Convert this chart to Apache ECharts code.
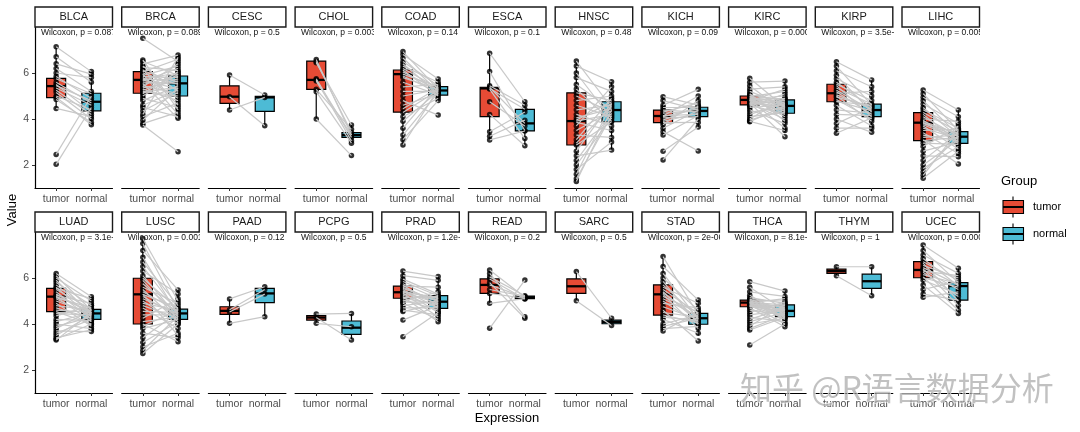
<!DOCTYPE html>
<html><head><meta charset="utf-8">
<script src="https://cdn.jsdelivr.net/npm/echarts@6/dist/echarts.min.js"></script>
<style>html,body{margin:0;padding:0;background:#fff}#c{width:1080px;height:432px}</style>
</head><body><div id="c"></div>
<script>
// ---------------- data ----------------
const cancers = ['BLCA','BRCA','CESC','CHOL','COAD','ESCA','HNSC','KICH','KIRC','KIRP','LIHC',
                 'LUAD','LUSC','PAAD','PCPG','PRAD','READ','SARC','STAD','THCA','THYM','UCEC'];
const pValues = ['0.087','0.089','0.5','0.0039','0.14','0.1','0.48','0.09','0.00024','3.5e-06','0.0052',
                 '3.1e-08','0.0016','0.12','0.5','1.2e-05','0.2','0.5','2e-06','8.1e-07','1','0.00012'];
const groups = ['tumor','normal'];
const yTicks = [2,4,6];

// paired sample values (tumor[k] paired with normal[k])
const tumorValues = [
  [7.14,6.71,6.4,6.2,6.0,5.85,5.75,5.6,5.5,5.45,5.35,5.25,5.15,5.0,4.95,4.85,4.46,2.46,2.03],
  [7.51,6.57,6.5,6.4,6.3,6.25,6.15,6.1,6.05,6.0,5.95,5.9,5.85,5.8,5.75,5.72,5.7,5.65,5.6,5.55,5.5,5.45,5.4,5.35,5.3,5.25,5.2,5.15,5.1,5.0,4.9,4.8,4.6,4.5,4.35,4.2,4.1,3.95,3.8,3.74],
  [5.91,4.97,4.39],
  [6.59,6.5,6.45,5.75,5.7,5.65,5.29,5.19,4.0],
  [6.93,6.8,6.65,6.5,6.4,6.3,6.2,6.13,6.05,5.95,5.87,5.8,5.6,5.4,5.2,5.0,4.8,4.6,4.45,4.28,4.1,3.9,3.6,3.3,3.1,2.87],
  [6.86,6.06,5.45,5.38,5.33,5.3,4.75,4.2,3.45,3.25,3.09],
  [6.52,6.3,6.0,5.8,5.5,5.3,5.14,5.0,4.8,4.6,4.4,4.2,4.05,3.95,3.91,3.85,3.7,3.5,3.3,3.1,2.95,2.87,2.6,2.4,2.2,2.0,1.8,1.6,1.4,1.28],
  [4.97,4.8,4.6,4.5,4.39,4.3,4.25,4.15,4.13,4.1,4.05,3.95,3.9,3.84,3.75,3.6,3.45,3.3,2.6,2.22],
  [5.77,5.6,5.45,5.3,5.2,5.1,5.05,5.0,4.97,4.95,4.92,4.9,4.88,4.86,4.84,4.83,4.82,4.8,4.78,4.75,4.72,4.7,4.68,4.65,4.62,4.61,4.55,4.5,4.4,4.3,4.2,4.1,4.0,3.95,3.9,3.88],
  [6.49,6.3,6.1,5.9,5.75,5.6,5.51,5.45,5.35,5.25,5.18,5.12,5.05,5.0,4.95,4.85,4.78,4.75,4.6,4.4,4.2,4.0,3.8,3.6,3.38],
  [5.26,5.1,4.95,4.8,4.65,4.5,4.4,4.28,4.2,4.1,4.0,3.95,3.9,3.85,3.84,3.8,3.7,3.6,3.5,3.4,3.3,3.2,3.1,3.06,2.95,2.8,2.6,2.4,2.2,2.0,1.85,1.7,1.55,1.42,3.75],
  [6.2,6.1,6.0,5.9,5.8,5.7,5.6,5.55,5.5,5.4,5.3,5.25,5.2,5.19,5.15,5.1,5.0,4.9,4.8,4.7,4.6,4.54,4.45,4.35,4.2,4.1,4.0,3.9,3.8,3.7,3.6,3.5,3.4,3.35,3.3],
  [7.72,7.5,7.2,6.9,6.7,6.5,6.3,6.1,5.99,5.9,5.75,5.6,5.5,5.4,5.3,5.29,5.2,5.1,5.0,4.9,4.8,4.7,4.55,4.4,4.25,4.1,4.0,3.9,3.8,3.6,3.4,3.2,3.0,2.85,2.72],
  [5.09,4.62,4.52,4.03],
  [4.43,4.28,4.03],
  [6.3,6.1,5.95,5.85,5.75,5.68,5.65,5.6,5.55,5.5,5.45,5.4,5.38,5.35,5.3,5.25,5.2,5.15,5.12,5.05,5.0,4.95,4.9,4.8,4.7,4.6,4.54,5.42,4.17,3.45],
  [6.35,6.2,6.05,5.96,5.8,5.7,5.5,5.33,4.9,3.81],
  [6.28,5.01],
  [6.93,6.5,6.2,6.0,5.85,5.7,5.6,5.5,5.4,5.35,5.29,5.2,5.1,5.0,4.9,4.75,4.6,4.5,4.39,4.3,4.2,4.0,3.9,3.8,3.7],
  [5.84,5.6,5.4,5.25,5.15,5.08,5.04,5.02,5.0,4.98,4.96,4.94,4.93,4.92,4.9,4.88,4.86,4.84,4.82,4.8,4.78,4.76,4.75,4.7,4.6,4.5,4.4,4.3,4.2,4.1,4.0,3.9,3.8,3.74,3.09],
  [6.49,6.1],
  [7.43,7.2,7.0,6.85,6.71,6.65,6.55,6.45,6.4,6.35,6.3,6.25,6.15,6.05,6.01,5.9,5.7,5.5,5.3,5.16]
];
const normalValues = [
  [6.06,5.6,5.95,5.2,5.8,4.9,5.1,4.7,4.3,4.8,4.6,4.2,4.0,4.4,3.75,3.85,4.1,5.0,4.5],
  [6.5,4.4,5.9,6.78,5.2,6.1,4.6,5.6,6.6,5.5,4.2,6.3,5.8,4.9,6.0,5.7,5.3,6.2,5.55,4.03,5.85,5.1,6.4,5.65,4.8,5.75,5.0,5.4,6.05,5.95,4.5,5.45,5.25,4.1,5.15,6.68,4.7,5.35,4.3,2.58],
  [5.04,3.71,4.94],
  [3.3,3.41,3.74,3.2,3.05,3.3,3.55,2.95,2.41],
  [5.3,5.74,5.2,5.45,5.1,5.6,5.35,5.0,5.25,5.4,5.15,5.3,5.05,5.5,5.2,5.28,4.17,5.1,5.35,5.25,4.9,5.2,5.4,5.15,4.8,5.3],
  [4.75,3.5,4.6,3.81,4.42,3.15,3.7,2.84,4.3,3.95,3.48],
  [4.5,5.62,4.0,5.2,4.4,3.9,4.8,4.3,5.0,4.1,4.6,3.7,4.45,4.75,4.2,3.5,5.4,4.35,3.2,4.9,4.55,3.88,4.7,2.65,4.25,4.05,3.0,4.65,4.15,4.4],
  [4.6,4.4,5.29,4.5,4.3,4.7,4.35,4.2,5.0,4.45,4.1,4.55,4.25,3.85,4.8,4.38,2.61,4.15,3.65,4.0],
  [4.5,5.65,4.3,5.4,4.6,3.9,4.8,4.4,5.2,4.7,4.1,4.57,5.0,4.25,4.9,3.6,4.65,4.45,5.3,4.35,4.75,3.23,4.55,4.0,4.83,4.2,5.1,4.62,3.8,4.5,4.68,4.28,4.9,4.4,3.5,4.58],
  [5.7,4.6,5.4,4.3,5.0,4.5,4.8,4.1,4.65,4.39,4.2,5.2,4.45,3.9,4.55,4.0,4.35,4.6,3.7,4.25,4.15,3.42,4.5,3.6,4.05],
  [4.39,3.5,4.1,3.3,3.8,3.2,3.6,3.45,3.0,3.25,3.9,2.94,3.35,3.1,3.23,3.4,2.7,3.15,3.55,2.5,3.05,3.3,2.04,3.2,2.9,3.7,3.0,2.36,3.4,3.1,2.8,3.25,3.5,2.6,3.15],
  [5.19,4.6,5.0,4.4,4.8,4.5,4.3,5.1,4.64,4.2,4.46,4.9,4.55,4.1,4.7,4.35,4.45,3.9,4.6,4.25,4.5,4.0,4.4,4.8,4.15,4.5,3.8,4.3,4.6,3.67,4.2,4.4,3.75,4.0,4.5],
  [5.0,4.6,5.48,4.4,4.8,4.5,5.3,4.3,4.65,4.2,4.46,4.9,4.1,4.55,3.5,4.7,4.35,4.45,4.0,4.6,4.25,3.8,4.5,4.4,5.1,4.3,3.23,4.6,4.2,3.4,4.5,4.1,3.6,4.35,4.0],
  [5.62,5.5,5.3,4.32],
  [4.46,3.3,3.88],
  [6.06,5.9,5.3,5.23,5.1,4.8,5.6,4.97,5.0,4.68,4.5,5.15,4.9,4.3,5.05,4.75,4.1,5.2,4.85,4.6,5.4,4.95,4.2,5.0,4.7,4.4,4.9,5.1,4.8,4.5],
  [5.16,4.32,5.23,5.09,4.25,5.16,5.2,5.12,5.1,5.91],
  [4.25,3.93],
  [4.4,5.04,4.2,4.6,4.0,4.3,4.9,4.46,4.1,4.25,3.8,4.5,4.35,3.99,4.7,4.2,3.26,4.3,4.05,4.15,3.6,4.4,4.25,3.9,4.5],
  [5.43,4.6,5.2,4.4,4.9,4.5,5.0,4.32,4.7,4.57,4.2,4.83,4.45,5.1,4.6,4.35,4.75,4.0,4.5,4.65,4.3,4.8,4.55,3.88,4.4,4.95,4.6,4.1,4.7,4.5,4.25,4.85,4.4,4.3,4.0],
  [6.49,5.23],
  [6.42,5.8,6.2,5.65,5.9,5.0,6.0,5.7,4.8,5.5,6.1,5.2,5.75,4.6,5.6,5.3,4.46,5.85,5.04,5.4]
];
// box statistics [lower whisker, Q1, median, Q3, upper whisker]
const tumorBox = [
  [4.46,4.93,5.43,5.77,7.14],[3.74,5.12,5.7,6.06,6.57],[4.39,4.68,4.97,5.44,5.91],[4.0,5.29,5.7,6.52,6.59],
  [2.87,4.3,5.95,6.13,6.93],[3.09,4.1,5.33,5.38,6.86],[1.28,2.87,3.91,5.14,6.52],[3.3,3.84,4.13,4.39,4.97],
  [3.88,4.61,4.83,5.0,5.77],[3.38,4.75,5.12,5.51,6.49],[1.42,3.06,3.84,4.28,5.26],
  [3.3,4.54,5.19,5.55,6.2],[2.72,4.0,5.29,5.99,7.72],[4.03,4.42,4.57,4.75,5.09],[4.03,4.17,4.28,4.36,4.43],
  [4.54,5.12,5.38,5.65,6.3],[4.9,5.33,5.7,5.96,6.35],[5.01,5.33,5.64,5.96,6.28],[3.7,4.39,5.29,5.7,6.93],
  [4.35,4.75,4.93,5.04,5.45],[6.1,6.2,6.3,6.39,6.49],[5.16,6.01,6.35,6.71,7.43]
];
const normalBox = [
  [3.75,4.35,4.75,5.12,6.06],[4.03,5.0,5.55,5.87,6.78],[3.71,4.33,4.94,4.99,5.04],[2.95,3.2,3.3,3.41,3.74],
  [4.8,5.04,5.24,5.41,5.74],[2.84,3.48,3.81,4.42,4.75],[2.65,3.88,4.39,4.75,5.62],[3.65,4.1,4.35,4.51,5.0],
  [3.4,4.25,4.57,4.83,5.65],[3.42,4.1,4.39,4.65,5.7],[2.36,2.94,3.23,3.45,4.39],
  [3.67,4.2,4.46,4.64,5.19],[3.23,4.2,4.46,4.65,5.48],[4.32,4.93,5.33,5.55,5.62],[3.3,3.55,3.84,4.13,4.46],
  [4.1,4.68,4.97,5.23,6.06],[5.09,5.1,5.16,5.21,5.23],[3.93,4.01,4.09,4.17,4.25],[3.5,3.99,4.25,4.46,5.04],
  [3.88,4.32,4.57,4.83,5.43],[5.23,5.55,5.86,6.17,6.49],[4.46,5.04,5.65,5.8,6.42]
];

// ---------------- layout / style ----------------
const FONT = 'Liberation Sans, Arial, Helvetica, sans-serif';
const NCOL = 11, LEFT0 = 35, PITCH = 86.7, PW = 77.5, PH = 161, ROWTOP = [27, 232], STRIP_H = 20;
const Y_MIN = 1, Y_MAX = 8, X_MIN = 0.4, X_MAX = 2.6, BOX_HW = 0.27, P_LABEL_Y = 7.75;
const groupColors = ['#E64B35', '#4DBBD5'];
const pairColor = '#C8C8C8';

function boxRender(params, api) {
  const c = api.value(0);
  const lo = api.value(1), q1 = api.value(2), md = api.value(3), q3 = api.value(4), hi = api.value(5);
  const xm = api.coord([c, q1])[0];
  const xl = api.coord([c - BOX_HW, q1])[0], xr = api.coord([c + BOX_HW, q1])[0];
  const yLo = api.coord([c, lo])[1], yQ1 = api.coord([c, q1])[1], yMd = api.coord([c, md])[1];
  const yQ3 = api.coord([c, q3])[1], yHi = api.coord([c, hi])[1];
  return { type: 'group', children: [
    { type: 'line', shape: { x1: xm, y1: yHi, x2: xm, y2: yQ3 }, style: { stroke: '#000', lineWidth: 1.2 } },
    { type: 'line', shape: { x1: xm, y1: yQ1, x2: xm, y2: yLo }, style: { stroke: '#000', lineWidth: 1.2 } },
    { type: 'rect', shape: { x: xl, y: yQ3, width: xr - xl, height: Math.max(yQ1 - yQ3, 0.5) },
      style: { fill: groupColors[c - 1], stroke: '#000', lineWidth: 1.2 } },
    { type: 'line', shape: { x1: xl, y1: yMd, x2: xr, y2: yMd }, style: { stroke: '#000', lineWidth: 2.3 } }
  ]};
}
function pairRender(params, api) {
  const a = api.coord([api.value(0), api.value(1)]);
  const b = api.coord([api.value(2), api.value(3)]);
  return { type: 'line', shape: { x1: a[0], y1: a[1], x2: b[0], y2: b[1] },
           style: { stroke: pairColor, lineWidth: 1.2 } };
}

const grids = [], xAxes = [], yAxes = [], series = [], graphics = [];
cancers.forEach((name, i) => {
  const row = Math.floor(i / NCOL), col = i % NCOL;
  const left = LEFT0 + col * PITCH, top = ROWTOP[row];
  grids.push({ left, top, width: PW, height: PH });
  xAxes.push({
    gridIndex: i, type: 'value', min: X_MIN, max: X_MAX,
    axisLine: { show: true, onZero: false, lineStyle: { color: '#000', width: 1.2 } },
    axisTick: { show: true, customValues: [1, 2], length: 3, lineStyle: { color: '#333', width: 1 } },
    axisLabel: { customValues: [1, 2], formatter: v => groups[Math.round(v) - 1], fontSize: 10.5,
                 color: '#4D4D4D', margin: 6, fontFamily: FONT },
    splitLine: { show: false }
  });
  yAxes.push({
    gridIndex: i, type: 'value', min: Y_MIN, max: Y_MAX,
    axisLine: { show: col === 0, onZero: false, lineStyle: { color: '#000', width: 1.2 } },
    axisTick: { show: col === 0, customValues: yTicks, length: 3, lineStyle: { color: '#333' } },
    axisLabel: { show: col === 0, customValues: yTicks, fontSize: 10.5, color: '#4D4D4D', margin: 6, fontFamily: FONT },
    splitLine: { show: false }
  });
  series.push({
    type: 'custom', xAxisIndex: i, yAxisIndex: i, z: 2, silent: true, renderItem: boxRender,
    encode: { x: 0, y: [1, 2, 3, 4, 5] },
    data: [[1].concat(tumorBox[i]), [2].concat(normalBox[i])]
  });
  series.push({
    type: 'scatter', xAxisIndex: i, yAxisIndex: i, z: 3, silent: true, symbolSize: 5.5,
    itemStyle: { color: '#000' },
    data: tumorValues[i].map(v => [1, v]).concat(normalValues[i].map(v => [2, v]))
  });
  series.push({
    type: 'custom', xAxisIndex: i, yAxisIndex: i, z: 4, silent: true, renderItem: pairRender,
    encode: { x: [0, 2], y: [1, 3] },
    data: tumorValues[i].map((t, k) => [1, t, 2, normalValues[i][k]])
  });
  series.push({
    type: 'custom', xAxisIndex: i, yAxisIndex: i, z: 5, silent: true, clip: true,
    encode: { x: 0, y: 1 },
    data: [[X_MIN, P_LABEL_Y]],
    renderItem: (params, api) => ({
      type: 'text', x: params.coordSys.x + 6, y: api.coord([X_MIN, api.value(1)])[1],
      style: { text: 'Wilcoxon, p = ' + pValues[i], fontSize: 8.5, fill: '#111', fontFamily: FONT,
               verticalAlign: 'middle', align: 'left' }
    })
  });
  graphics.push({ type: 'rect', shape: { x: left, y: top - STRIP_H, width: PW, height: STRIP_H },
                  style: { fill: '#fff', stroke: '#1A1A1A', lineWidth: 1.4 }, z: 10 });
  graphics.push({ type: 'text', x: left + PW / 2, y: top - STRIP_H / 2,
                  style: { text: name, fontSize: 11, fill: '#1A1A1A', fontFamily: FONT, align: 'center', verticalAlign: 'middle' }, z: 11 });
});

// axis titles
graphics.push({ type: 'text', x: 507, y: 418, style: { text: 'Expression', fontSize: 13, fill: '#000', fontFamily: FONT, align: 'center', verticalAlign: 'middle' } });
graphics.push({ type: 'text', x: 12, y: 210, rotation: Math.PI / 2,
                style: { text: 'Value', fontSize: 13, fill: '#000', fontFamily: FONT, align: 'center', verticalAlign: 'middle' } });

// legend (drawn)
graphics.push({ type: 'text', x: 1001, y: 181, style: { text: 'Group', fontSize: 13, fill: '#000', fontFamily: FONT, verticalAlign: 'middle' } });
const legendY = [207, 234];
groups.forEach((g, k) => {
  const cy = legendY[k];
  graphics.push({ type: 'line', shape: { x1: 1013, y1: cy - 10.5, x2: 1013, y2: cy + 10.5 }, style: { stroke: '#000', lineWidth: 1.1 } });
  graphics.push({ type: 'rect', shape: { x: 1003, y: cy - 6.5, width: 20.5, height: 13 }, style: { fill: groupColors[k], stroke: '#000', lineWidth: 1.1 } });
  graphics.push({ type: 'line', shape: { x1: 1003, y1: cy, x2: 1023.5, y2: cy }, style: { stroke: '#000', lineWidth: 2 } });
  graphics.push({ type: 'text', x: 1033, y: cy, style: { text: g, fontSize: 11, fill: '#000', fontFamily: FONT, verticalAlign: 'middle' } });
});

// watermark
graphics.push({ type: 'text', x: 740, y: 388, z: 100,
  style: { text: '知乎 @R语言数据分析', fontSize: 32, fontFamily: 'Noto Sans CJK SC, sans-serif',
           fill: 'rgba(160,160,160,0.65)', stroke: 'rgba(255,255,255,0.85)', lineWidth: 1, verticalAlign: 'middle' } });

const chart = echarts.init(document.getElementById('c'));
chart.setOption({
  animation: false,
  backgroundColor: '#fff',
  grid: grids, xAxis: xAxes, yAxis: yAxes, series: series,
  graphic: { elements: graphics }
});
</script></body></html>
